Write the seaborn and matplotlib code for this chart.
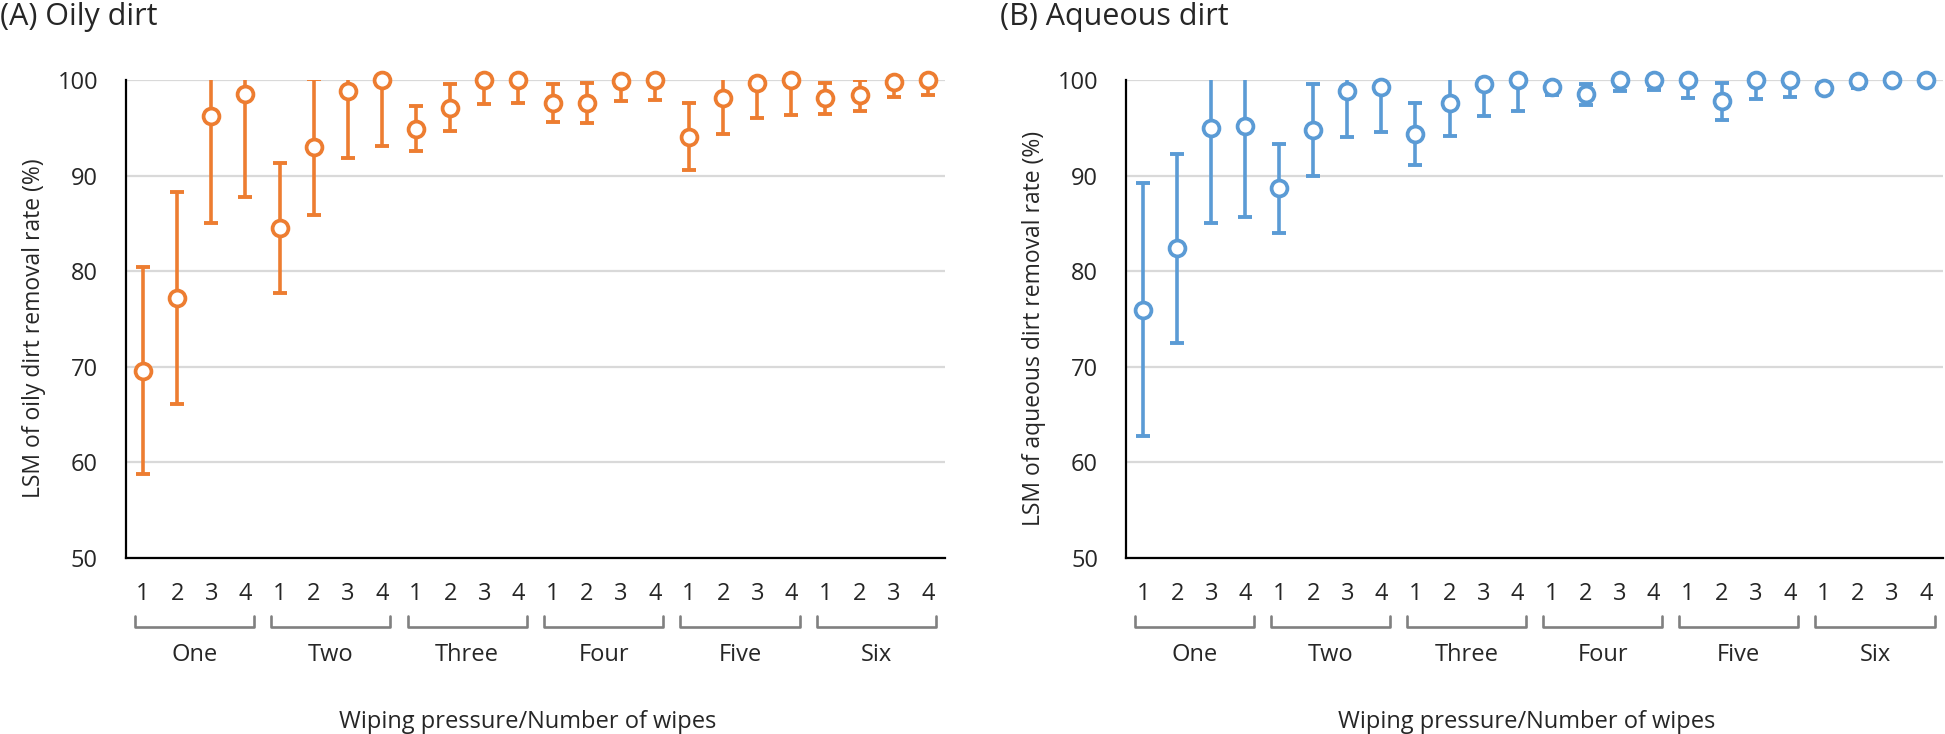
import numpy as np
import matplotlib
matplotlib.use("Agg")
import matplotlib.pyplot as plt
import matplotlib.transforms as mtransforms
import seaborn as sns
import pandas as pd

# categories
groups = ['One', 'Two', 'Three', 'Four', 'Five', 'Six']
wipes = ['1', '2', '3', '4']

# LSM values (%) and error half-widths
oily_mean = [69.6, 77.2, 96.2, 98.6, 84.5, 93.0, 98.9, 100.0,
             94.9, 97.1, 100.0, 100.0, 97.6, 97.6, 99.9, 100.0,
             94.1, 98.1, 99.7, 100.0, 98.1, 98.4, 99.8, 100.0]
oily_err = [10.8, 11.1, 11.1, 10.8, 6.8, 7.1, 7.0, 6.9,
            2.35, 2.45, 2.5, 2.4, 2.0, 2.1, 2.1, 2.1,
            3.55, 3.7, 3.7, 3.6, 1.65, 1.65, 1.6, 1.6]
aq_mean = [76.0, 82.4, 95.0, 95.2, 88.7, 94.8, 98.9, 99.3,
           94.35, 97.6, 99.6, 100.0, 99.3, 98.5, 100.0, 100.0,
           100.0, 97.8, 100.0, 100.0, 99.2, 99.9, 100.0, 100.0]
aq_err = [13.2, 9.9, 9.9, 9.5, 4.65, 4.8, 4.8, 4.7,
          3.25, 3.4, 3.4, 3.2, 0.9, 1.1, 1.1, 1.0,
          1.9, 1.95, 1.95, 1.8, 0.5, 0.7, 0.5, 0.5]

panels = [
    ('(A) Oily dirt', 'LSM of oily dirt removal rate (%)', oily_mean, oily_err, '#ED7D31'),
    ('(B) Aqueous dirt', 'LSM of aqueous dirt removal rate (%)', aq_mean, aq_err, '#5B9BD5'),
]

sns.set_style("white")
plt.rcParams['font.family'] = ['Open Sans', 'DejaVu Sans']

fig = plt.figure(figsize=(19.45, 7.34), dpi=100)
axes_rect = [[0.0648, 0.2398, 0.421, 0.651], [0.579, 0.2398, 0.42, 0.651]]
title_x = [0.0, 1000 / 1945]

n_w = len(wipes)
for k, (title, ylabel, mean, err, color) in enumerate(panels):
    ax = fig.add_axes(axes_rect[k])
    df = pd.DataFrame({
        'group': np.repeat(groups, n_w),
        'wipe': wipes * len(groups),
        'mean': mean,
        'err': err,
    })
    df['pos'] = np.arange(len(df)) + 0.5

    ax.errorbar(df['pos'], df['mean'], yerr=df['err'], fmt='none', ecolor=color,
                elinewidth=2.6, capsize=4.8, capthick=2.8, zorder=3)
    sns.scatterplot(data=df, x='pos', y='mean', ax=ax, marker='o', s=130,
                    facecolor='white', edgecolor=color, linewidth=2.7,
                    clip_on=False, zorder=4, legend=False)

    ax.set_xlim(0, len(df))
    ax.set_ylim(50, 100)
    ax.set_yticks(np.arange(50, 101, 10))
    ax.yaxis.grid(True, color='#D9D9D9', linewidth=1.6)
    ax.set_axisbelow(True)
    for s in ['top', 'right']:
        ax.spines[s].set_visible(False)
    for s in ['left', 'bottom']:
        ax.spines[s].set_color('black')
        ax.spines[s].set_linewidth(1.6)
        ax.spines[s].set_zorder(5)

    ax.set_xticks(np.arange(0, len(df) + 1, n_w))
    ax.set_xticklabels([])
    ax.set_xticks(df['pos'], df['wipe'], minor=True)
    ax.tick_params(axis='x', which='major', direction='out', length=7.2, width=1.6, color='black')
    ax.tick_params(axis='x', which='minor', length=0, pad=17, labelsize=17)
    ax.tick_params(axis='y', direction='out', length=7.2, width=1.6, color='black', pad=13, labelsize=17)

    trans = mtransforms.blended_transform_factory(ax.transData, ax.transAxes)
    for g, name in enumerate(groups):
        x0 = g * n_w + 0.25
        x1 = g * n_w + n_w - 0.25
        ax.plot([x0, x0, x1, x1], [-0.121, -0.144, -0.144, -0.121], color='#808080',
                linewidth=1.9, transform=trans, clip_on=False)
        ax.text(g * n_w + n_w / 2, -0.203, name, transform=trans, ha='center', va='center',
                fontsize=17)

    ax.set_xlabel('')
    ax.text(0.49, -0.343, 'Wiping pressure/Number of wipes', transform=ax.transAxes,
            ha='center', va='center', fontsize=17)
    ax.set_ylabel(ylabel, fontsize=16.5)
    ax.yaxis.set_label_coords(-0.098, 0.48)

    fig.text(title_x[k], 1 - 2 / 734, title, ha='left', va='top', fontsize=22)

fig.savefig('out.png', dpi=100)
